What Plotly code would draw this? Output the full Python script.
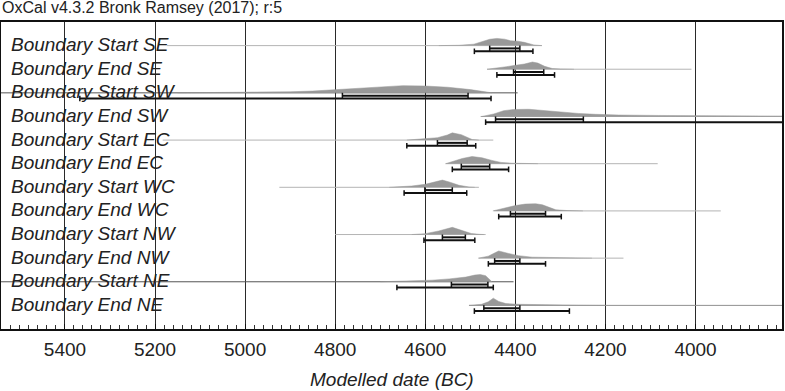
import plotly.graph_objects as go

# ---------------- data ----------------
labels = ["Boundary Start SE", "Boundary End SE", "Boundary Start SW", "Boundary End SW",
          "Boundary Start EC", "Boundary End EC", "Boundary Start WC", "Boundary End WC",
          "Boundary Start NW", "Boundary End NW", "Boundary Start NE", "Boundary End NE"]

# full extent of each distribution (thin line), years BC
extent_from = [5174, 4463, 5600, 4477, 5183, 4555, 4924, 4448, 4800, 4482, 5600, 4503]
extent_to   = [4341, 4009, 4395, 3700, 4449, 4084, 4481, 3944, 4466, 4160, 4404, 3700]

# 68.2% and 95.4% highest posterior density ranges
r68_from = [4457, 4404, 4784, 4444, 4573, 4520, 4601, 4411, 4562, 4446, 4542, 4470]
r68_to   = [4390, 4337, 4505, 4249, 4507, 4457, 4540, 4333, 4511, 4390, 4461, 4390]
r95_from = [4491, 4441, 5367, 4466, 4641, 4540, 4647, 4437, 4603, 4460, 4663, 4491]
r95_to   = [4361, 4313, 4454, 3700, 4488, 4415, 4508, 4298, 4490, 4333, 4449, 4280]

# posterior density outlines (year BC, relative probability)
dens_years = [
    [4570, 4525, 4492, 4472, 4457, 4441, 4424, 4411, 4395, 4380, 4359, 4341],
    [4463, 4441, 4420, 4400, 4380, 4362, 4350, 4335, 4318, 4300, 4270],
    [5150, 5000, 4900, 4850, 4800, 4750, 4700, 4650, 4600, 4550, 4500, 4470, 4452],
    [4474, 4448, 4426, 4404, 4370, 4348, 4319, 4289, 4260, 4222, 4171, 4083, 3994, 3800],
    [4641, 4605, 4573, 4551, 4540, 4520, 4507, 4496, 4481],
    [4555, 4540, 4518, 4496, 4474, 4452, 4432, 4408, 4377, 4350],
    [4680, 4630, 4600, 4577, 4562, 4547, 4525, 4503, 4490],
    [4450, 4437, 4414, 4400, 4378, 4355, 4340, 4325, 4310, 4285, 4250],
    [4630, 4600, 4570, 4540, 4518, 4498, 4480, 4470],
    [4482, 4460, 4444, 4437, 4415, 4393, 4363, 4319, 4260, 4230],
    [4700, 4630, 4585, 4547, 4510, 4490, 4478, 4466, 4452],
    [4503, 4475, 4460, 4449, 4437, 4421, 4392, 4333, 4260, 4200],
]
dens_values = [
    [0, 0.05, 0.2, 0.6, 0.88, 1.0, 0.9, 0.68, 0.62, 0.45, 0.1, 0],
    [0, 0.15, 0.35, 0.55, 0.72, 1.0, 0.85, 0.4, 0.1, 0.04, 0],
    [0, 0.05, 0.15, 0.25, 0.45, 0.7, 0.9, 1.0, 0.95, 0.78, 0.45, 0.2, 0],
    [0, 0.35, 0.8, 0.97, 1.0, 0.88, 0.72, 0.6, 0.42, 0.3, 0.2, 0.14, 0.1, 0.05],
    [0, 0.12, 0.33, 0.7, 1.0, 0.75, 0.35, 0.08, 0],
    [0, 0.28, 0.72, 1.0, 0.82, 0.45, 0.18, 0.07, 0.03, 0],
    [0, 0.18, 0.42, 0.75, 1.0, 0.75, 0.28, 0.05, 0],
    [0, 0.2, 0.6, 0.75, 0.95, 1.0, 0.85, 0.45, 0.15, 0.05, 0],
    [0, 0.12, 0.5, 1.0, 0.55, 0.15, 0.03, 0],
    [0, 0.28, 0.78, 1.0, 0.65, 0.35, 0.14, 0.06, 0.02, 0],
    [0, 0.08, 0.22, 0.4, 0.65, 0.93, 1.0, 0.85, 0],
    [0, 0.15, 0.5, 1.0, 0.55, 0.25, 0.15, 0.07, 0.03, 0],
]

tick_values = [5400, 5200, 5000, 4800, 4600, 4400, 4200, 4000]
tick_text = ["5400", "5200", "5000", "4800", "4600", "4400", "4200", "4000"]

# ---------------- style ----------------
FONT = "Liberation Sans, Arial, sans-serif"
PEAK = 0.305      # density peak height in row units
OFF68 = 0.118     # offset of 68.2% bar below baseline
OFF95 = 0.241     # offset of 95.4% bar below baseline
line_colors = ["#b4b4b4", "#b4b4b4", "#555555", "#a0a0a0", "#b4b4b4", "#b4b4b4",
               "#b4b4b4", "#b4b4b4", "#b4b4b4", "#b4b4b4", "#555555", "#909090"]

fig = go.Figure()

for i in range(len(labels)):
    row = i + 1
    fig.add_trace(go.Scatter(x=[extent_from[i], extent_to[i]], y=[row, row], mode="lines",
                             line=dict(color=line_colors[i], width=1), hoverinfo="skip"))
    fig.add_trace(go.Scatter(x=dens_years[i], y=[row - v * PEAK for v in dens_values[i]],
                             mode="lines", fill="toself", fillcolor="#999999",
                             line=dict(color="#999999", width=0.5), hoverinfo="skip"))
    for (a, b, off) in [(r68_from[i], r68_to[i], OFF68), (r95_from[i], r95_to[i], OFF95)]:
        fig.add_trace(go.Scatter(x=[a, b], y=[row + off, row + off], mode="lines+markers",
                                 line=dict(color="#111111", width=2),
                                 marker=dict(symbol="line-ns", size=4,
                                             line=dict(color="#111111", width=1.5)),
                                 hoverinfo="skip"))
    fig.add_annotation(x=0.0102, xref="paper", y=row, yref="y", text="<i>" + labels[i] + "</i>",
                       showarrow=False, xanchor="left", yanchor="middle", yshift=1,
                       font=dict(family=FONT, size=19, color="#222222"))

fig.add_annotation(x=-0.0013, xref="paper", y=1.047, yref="paper",
                   text="OxCal v4.3.2 Bronk Ramsey (2017); r:5", showarrow=False,
                   xanchor="left", yanchor="middle", font=dict(family=FONT, size=16, color="#222222"))
fig.add_annotation(x=0.5, xref="paper", y=-0.166, yref="paper", text="<i>Modelled date (BC)</i>",
                   showarrow=False, xanchor="center", yanchor="middle",
                   font=dict(family=FONT, size=19, color="#222222"))

fig.update_xaxes(range=[5542, 3808], tickmode="array", tickvals=tick_values, ticktext=tick_text,
                 showgrid=True, gridcolor="#2a2a2a", gridwidth=1, zeroline=False,
                 showline=True, linecolor="#111111", linewidth=2, mirror=True,
                 ticks="inside", ticklen=5, tickcolor="#111111", ticklabelstandoff=2,
                 tickfont=dict(family=FONT, size=19, color="#222222"),
                 minor=dict(dtick=20, tick0=5400, ticks="inside", ticklen=4, tickcolor="#333333",
                            showgrid=False))
fig.update_yaxes(range=[13, 0], showgrid=False, zeroline=False, showticklabels=False,
                 showline=True, linecolor="#111111", linewidth=2, mirror=True, ticks="")

fig.update_layout(width=785, height=391, margin=dict(l=1, r=1, t=22, b=62),
                  plot_bgcolor="white", paper_bgcolor="white", showlegend=False)

fig.write_html("out.html", config={"displayModeBar": False, "staticPlot": True},
               post_script="document.body.style.margin='0';document.body.style.overflow='hidden';")
